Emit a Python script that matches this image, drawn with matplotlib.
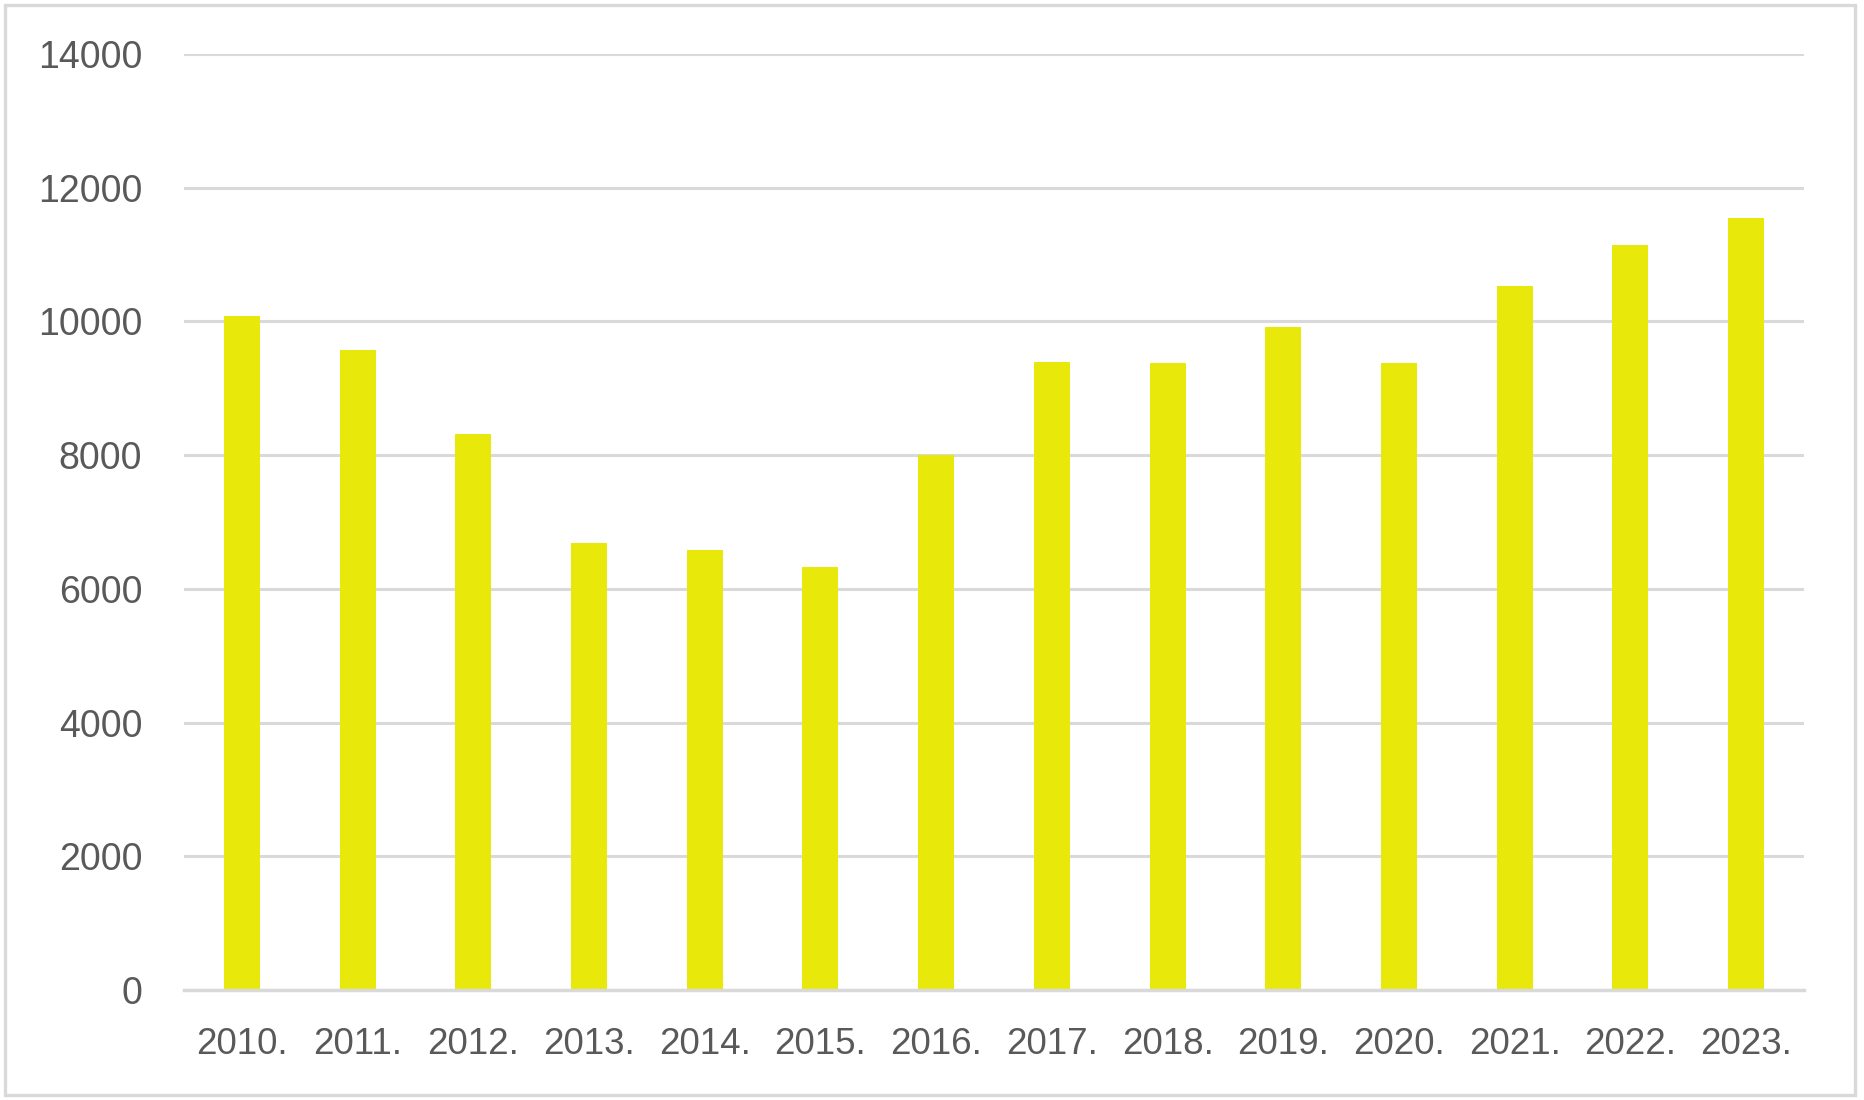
import matplotlib
matplotlib.use("Agg")
import matplotlib.pyplot as plt
from matplotlib.patches import Rectangle
import numpy as np

years = ["2010.", "2011.", "2012.", "2013.", "2014.", "2015.", "2016.",
         "2017.", "2018.", "2019.", "2020.", "2021.", "2022.", "2023."]
values = [10080, 9580, 8310, 6680, 6580, 6330, 8005,
          9395, 9380, 9920, 9380, 10535, 11145, 11545]
yticks = [0, 2000, 4000, 6000, 8000, 10000, 12000, 14000]

W, H = 1865, 1100
fig = plt.figure(figsize=(W / 100, H / 100), dpi=100)
fig.patch.set_facecolor("white")

# outer border
fig.patches.append(Rectangle((5 / W, 5 / H), 1850 / W, 1090 / H,
                             transform=fig.transFigure, fill=False,
                             edgecolor="#d9d9d9", linewidth=2.4))

left, right, top, bottom = 184, 1804, 54, 990
ax = fig.add_axes([left / W, 1 - bottom / H, (right - left) / W, (bottom - top) / H])
x = np.arange(len(years))
ax.bar(x, values, width=0.31, color="#e8e80a", zorder=3)
ax.set_xlim(-0.5, len(years) - 0.5)
ax.set_ylim(0, 14000)
ax.set_yticks(yticks)
ax.set_yticklabels([str(t) for t in yticks], fontsize=27, color="#595959",
                   family=["Liberation Sans", "DejaVu Sans"])
ax.set_xticks(x)
ax.set_xticklabels(years, fontsize=26.5, color="#595959",
                   family=["Liberation Sans", "DejaVu Sans"])
ax.tick_params(axis="y", length=0, pad=30)
ax.tick_params(axis="x", length=0, pad=27)
ax.grid(axis="y", color="#d9d9d9", linewidth=2.2, zorder=0)
for s in ["left", "right", "top"]:
    ax.spines[s].set_visible(False)
ax.spines["bottom"].set_color("#d9d9d9")
ax.spines["bottom"].set_linewidth(2.5)
ax.spines["bottom"].set_zorder(4)

fig.savefig("out.png", dpi=100, facecolor="white")
